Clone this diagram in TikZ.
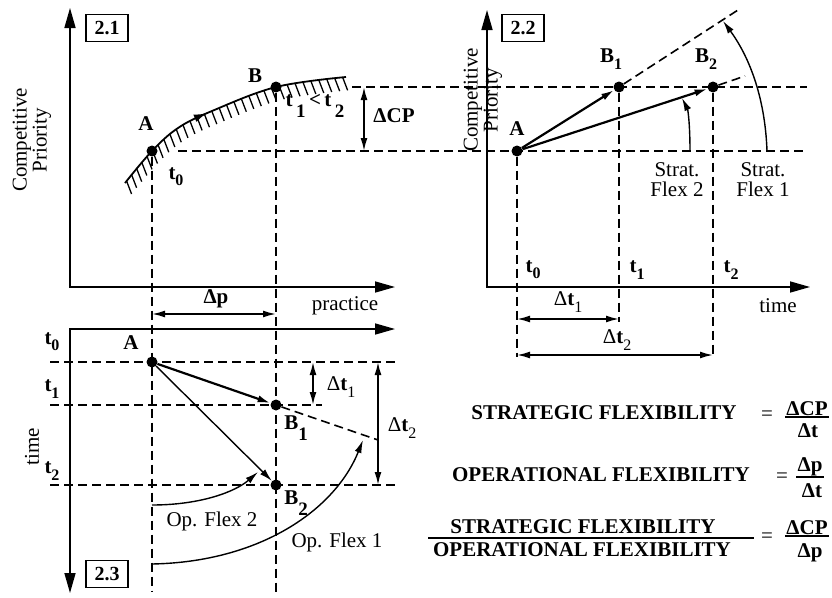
\documentclass[tikz,border=0pt]{standalone}
\usepackage{fontspec}
\setmainfont{Liberation Serif}
\usetikzlibrary{arrows.meta,decorations.markings,calc}
\newcommand{\lsub}[1]{\raisebox{-0.3em}{\fontsize{16}{16}\selectfont #1}}
\newcommand{\dsub}[1]{\raisebox{-0.55em}{\fontsize{19}{19}\selectfont #1}}
\tikzset{
  axis/.style={line width=1.6pt,{Triangle[length=20pt,width=11pt]}-{Triangle[length=20pt,width=11pt]}},
  guide/.style={line width=1.6pt,dash pattern=on 9pt off 5pt},
  vec/.style={line width=2.2pt,-{Latex[length=13pt,width=7pt]}},
  thinvec/.style={line width=1.4pt,-{Latex[length=13pt,width=7pt]}},
  dimarrow/.style={line width=1.7pt,{Latex[length=13pt,width=7pt]}-{Latex[length=13pt,width=7pt]}},
  dot/.style={circle,fill,inner sep=0pt,minimum size=11pt},
  lbl/.style={font=\fontsize{21}{23}\selectfont,inner sep=1pt},
  bflbl/.style={font=\fontsize{21}{23}\selectfont\bfseries,inner sep=1pt},
  panelbox/.style={draw,line width=1.5pt,font=\fontsize{20}{22}\selectfont\bfseries,
    minimum width=42pt,minimum height=27pt,inner sep=1pt},
  fracbar/.style={line width=1.8pt},
  hatched/.style={line width=1.8pt,
    postaction={decorate,decoration={markings,
      mark=between positions 0.01 and 0.99 step 8pt with
        {\pgftransformresetnontranslations \draw[line width=1.3pt] (0pt,0pt) -- (5pt,-13pt);}}},
    postaction={decorate,decoration={markings,
      mark=at position 0.43 with {\arrow{Latex[length=13pt,width=8pt]}}}}}
}
\begin{document}
\begin{tikzpicture}[x=1pt,y=-1pt]
\useasboundingbox (0,0) rectangle (832,597);

% ---- panel 2.1
\draw[axis] (70,8) -- (70,287) -- (395,287);
\node[panelbox] (tag1) at (107,28) {2.1};
\node[lbl,rotate=90,align=center] (cp1) at (32,140) {Competitive\\[-3pt]Priority};
\draw[hatched] plot[smooth,tension=0.6] coordinates {(125,183) (152,151) (178,128) (212,111) (276,87) (346,77)};
\node[dot] (A1) at (152,151) {};
\node[dot] (B1) at (276,87) {};
\node[bflbl] (A1l) at (146,124) {A};
\node[bflbl] (B1l) at (255,76) {B};
\node[bflbl] (t01) at (176,177) {t\lsub{0}};
\node[bflbl] (tlt) at (315,106) {t\,\dsub{1}\,<\,t\,\dsub{2}};
\coordinate (cp1top) at (364,87);
\coordinate (cp1bot) at (364,151);
\draw[dimarrow] (cp1top) -- (cp1bot);
\node[bflbl] (dcp) at (394,116) {ΔCP};

% ---- guides shared by 2.1 and 2.2
\coordinate (rim) at (807,0);
\draw[guide] (352,87) -- (B1 -| rim);
\draw[guide] (178,151) -- (A1 -| rim);
\coordinate (low) at (0,592);
\draw[guide] (A1) -- (A1 |- low);
\draw[guide] (B1) -- (B1 |- low);

% ---- panel 2.2
\draw[axis] (487,10) -- (487,287) -- (810,287);
\node[panelbox] (tag2) at (523,28) {2.2};
\node[lbl,rotate=90,align=center] (cp2) at (483,100) {Competitive\\[-3pt]Priority};
\node[dot] (A2) at (517,151) {};
\node[dot] (B21) at (619,87) {};
\node[dot] (B22) at (713,87) {};
\node[bflbl] (A2l) at (517,129) {A};
\node[bflbl] (B21l) at (611,59) {B\lsub{1}};
\node[bflbl] (B22l) at (706,59) {B\lsub{2}};
\coordinate (e21) at (738,10);
\coordinate (e22) at (745,76);
\draw[guide] (B21) -- (e21);
\draw[guide] (B22) -- (e22);
\draw[vec] (A2) -- (B21);
\draw[vec] (A2) -- (B22);
\coordinate (sf2) at (690,151);
\coordinate (sf1) at (767,151);
\draw[thinvec] (sf2) .. controls (690,125) and (688,110) .. (682,98);
\draw[thinvec] (sf1) .. controls (765,95) and (748,55) .. (723,21);
\node[lbl,align=center] (sf2l) at (677,180) {Strat.\\[-3pt]Flex 2};
\node[lbl,align=center] (sf1l) at (763,180) {Strat.\\[-3pt]Flex 1};
\coordinate (tlow1) at (0,322);
\coordinate (tlow2) at (0,357);
\draw[guide] (A2) -- (A2 |- tlow2);
\draw[guide] (B21) -- (B21 |- tlow1);
\draw[guide] (B22) -- (B22 |- tlow2);
\node[bflbl] (t02) at (533,270) {t\lsub{0}};
\node[bflbl] (t12) at (637,270) {t\lsub{1}};
\node[bflbl] (t22) at (731,270) {t\lsub{2}};
\node[lbl] (time2) at (778,306) {time};
\draw[dimarrow] (A2 |- 0,319) -- (B21 |- 0,319);
\node[lbl] (dt1) at (568,302) {Δ\textbf{t}\lsub{1}};
\draw[dimarrow] (A2 |- 0,355) -- (B22 |- 0,355);
\node[lbl] (dt2) at (617,340) {Δ\textbf{t}\lsub{2}};

% ---- panel 2.3
\draw[axis] (395,329) -- (70,329) -- (70,593);
\node[panelbox] (tag3) at (107,574) {2.3};
\node[lbl,rotate=90] (time3) at (32,447) {time};
\node[lbl] (prac) at (345,306) {practice};
\draw[dimarrow] (A1 |- 0,314) -- (B1 |- 0,314);
\node[bflbl] (dp) at (216,299) {Δp};
\node[dot] (A3) at (152,362) {};
\node[dot] (B31) at (276,405) {};
\node[dot] (B32) at (276,485) {};
\draw[guide] (50,362) -- (395,362);
\draw[guide] (50,405) -- (322,405);
\draw[guide] (50,485) -- (395,485);
\node[bflbl] (t03) at (52,342) {t\lsub{0}};
\node[bflbl] (t13) at (52,389) {t\lsub{1}};
\node[bflbl] (t23) at (52,471) {t\lsub{2}};
\node[bflbl] (A3l) at (131,343) {A};
\node[bflbl] (B31l) at (296,428) {B\dsub{1}};
\node[bflbl] (B32l) at (296,503) {B\dsub{2}};
\coordinate (e31) at (378,440);
\draw[guide] (B31) -- (e31);
\draw[vec] (A3) -- (B31);
\draw[thinvec] (A3) -- (B32);
\draw[dimarrow] (313,362) -- (313,405);
\node[lbl] (dt13) at (341,387) {Δ\textbf{t}\lsub{1}};
\draw[dimarrow] (378,362) -- (378,485);
\node[lbl] (dt23) at (402,428) {Δ\textbf{t}\lsub{2}};
\coordinate (of2) at (152,505);
\coordinate (of1) at (152,564);
\draw[thinvec] (of2) .. controls (200,505) and (235,492) .. (258,472);
\draw[thinvec] (of1) .. controls (260,562) and (335,510) .. (363,440);
\node[lbl] (of2l) at (212,521) {Op. Flex 2};
\node[lbl] (of1l) at (337,542) {Op. Flex 1};

% ---- formulas
\node[bflbl] (sflex) at (604,413) {STRATEGIC FLEXIBILITY};
\node[lbl] (eq1) at (767,416) {=};
\node[bflbl,anchor=south] (sfnum) at (807,417) {ΔCP};
\node[bflbl,anchor=north] (sfden) at (808,422) {Δt};
\draw[fracbar] (sfnum.south west) -- (sfnum.south east);

\node[bflbl] (oflex) at (601,475) {OPERATIONAL FLEXIBILITY};
\node[lbl] (eq2) at (782,478) {=};
\node[bflbl,anchor=south] (ofnum) at (810,477) {Δp};
\node[bflbl,anchor=north] (ofden) at (812,482) {Δt};
\draw[fracbar] (ofnum.south west) -- (ofnum.south east);

\node[bflbl,anchor=south] (rnum) at (583,535) {STRATEGIC FLEXIBILITY};
\node[bflbl,anchor=north] (rden) at (582,541) {OPERATIONAL FLEXIBILITY};
\coordinate (rbarl) at (428,538);
\coordinate (rbarr) at (754,538);
\draw[fracbar] (rbarl) -- (rbarr);
\node[lbl] (eq3) at (767,538) {=};
\node[bflbl,anchor=south] (rrnum) at (807,536) {ΔCP};
\node[bflbl,anchor=north] (rrden) at (810,542) {Δp};
\draw[fracbar] (rrnum.south west) -- (rrnum.south east);
\end{tikzpicture}
\end{document}
